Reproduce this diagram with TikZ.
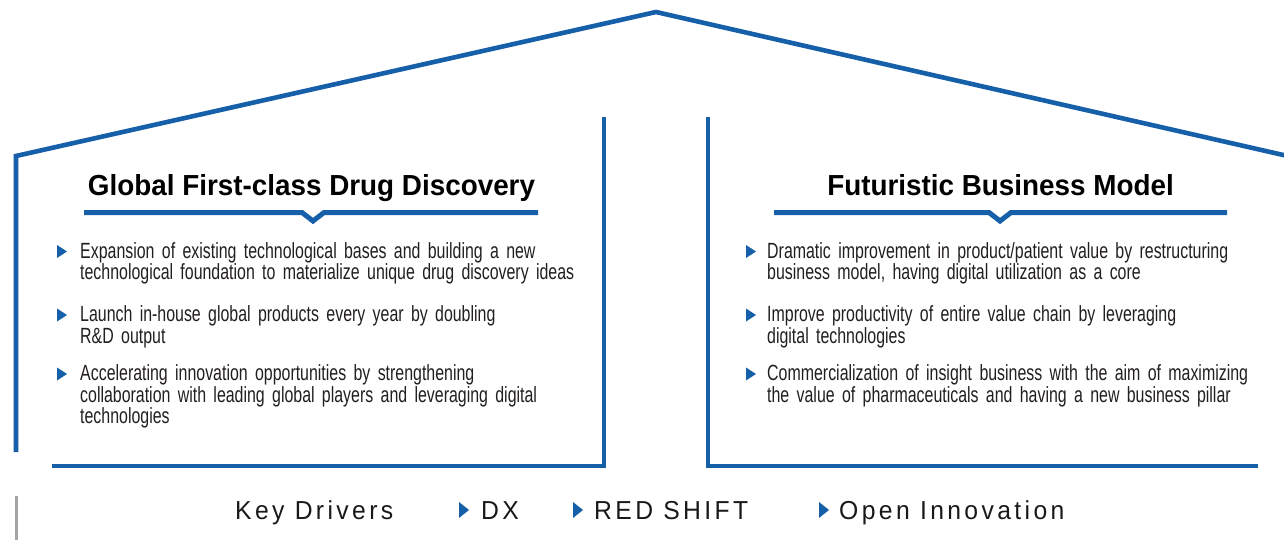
\documentclass[tikz,border=0pt]{standalone}
\usepackage{fontspec}
\setmainfont{Liberation Sans}
\newfontfamily\titlefont[FakeStretch=0.96]{Liberation Sans}
\newfontfamily\bodyfont[FakeStretch=0.724]{Liberation Sans}
\newfontfamily\kdfont[FakeStretch=0.95,LetterSpace=13]{Liberation Sans}
\definecolor{hblue}{RGB}{22,96,170}
\definecolor{btext}{RGB}{35,31,32}
\tikzset{
  frame/.style={draw=hblue, line width=4.6pt, line join=miter},
  uline/.style={draw=hblue, line width=5pt, line join=miter},
  ttl/.style={anchor=base, inner sep=0pt, font=\titlefont\bfseries\fontsize{29}{29}\selectfont, text=black},
  item/.style={anchor=base west, inner sep=0pt, text width=520pt, align=left, text=btext, font=\bodyfont\fontsize{22}{21.5}\selectfont},
  kd/.style={anchor=base west, inner sep=0pt, text=black!90, font=\kdfont\fontsize{26}{26}\selectfont},
  tri/.style={fill=hblue}
}
\begin{document}
\begin{tikzpicture}[x=1pt,y=-1pt]
\useasboundingbox (0,0) rectangle (1284,540);
\clip (0,0) rectangle (1284,540);
\fill[white] (0,0) rectangle (1284,540);
% roof and walls
\draw[frame] (16,452) -- (16,156) -- (656,12) -- (1292,157);
\draw[frame] (604,117) -- (604,466) -- (52,466);
\draw[frame] (708,117) -- (708,466) -- (1258,466);
% titles
\node[ttl] (t1) at (311.5,196) {Global First-class Drug Discovery};
\node[ttl] (t2) at (1000.5,196) {Futuristic Business Model};
\draw[uline] (84,212.5) -- (302,212.5) -- (313,221) -- (324,212.5) -- (538,212.5);
\draw[uline] (774,212.5) -- (989,212.5) -- (1000,221) -- (1011,212.5) -- (1227,212.5);
% left items
\fill[tri] (57,245) -- (67,251.5) -- (57,258) -- cycle;
\node[item] (l1) at (80,258) {Expansion of existing technological bases and building a new\\technological foundation to materialize unique drug discovery ideas};
\fill[tri] (57,308.5) -- (67,315) -- (57,321.5) -- cycle;
\node[item] (l2) at (80,321.5) {Launch in-house global products every year by doubling\\R\&D output};
\fill[tri] (57,367.5) -- (67,374) -- (57,380.5) -- cycle;
\node[item] (l3) at (80,380.5) {Accelerating innovation opportunities by strengthening\\collaboration with leading global players and leveraging digital\\technologies};
% right items
\fill[tri] (746,245) -- (756,251.5) -- (746,258) -- cycle;
\node[item] (r1) at (767,258) {Dramatic improvement in product/patient value by restructuring\\business model, having digital utilization as a core};
\fill[tri] (746,308.5) -- (756,315) -- (746,321.5) -- cycle;
\node[item] (r2) at (767,321.5) {Improve productivity of entire value chain by leveraging\\digital technologies};
\fill[tri] (746,367.5) -- (756,374) -- (746,380.5) -- cycle;
\node[item] (r3) at (767,380.5) {Commercialization of insight business with the aim of maximizing\\the value of pharmaceuticals and having a new business pillar};
% key drivers
\draw[draw=black!35, line width=3pt] (16,496) -- (16,545);
\node[kd] (kd) at (235,519) {Key Drivers};
\fill[tri] (459,502) -- (469,510) -- (459,518) -- cycle;
\node[kd] (dx) at (481,519) {DX};
\fill[tri] (573,502) -- (583,510) -- (573,518) -- cycle;
\node[kd] (rs) at (594,519) {RED SHIFT};
\fill[tri] (819,502) -- (829,510) -- (819,518) -- cycle;
\node[kd] (oi) at (839,519) {Open Innovation};
\end{tikzpicture}
\end{document}
